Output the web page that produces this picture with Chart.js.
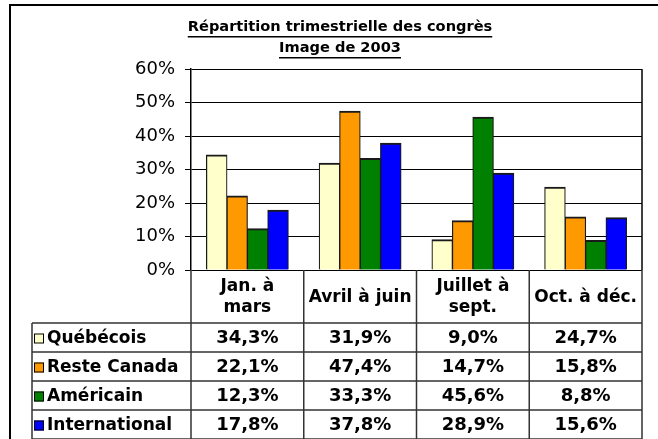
<!DOCTYPE html>
<html>
<head>
<meta charset="utf-8">
<script src="https://cdn.jsdelivr.net/npm/chart.js@4"></script>
<style>
  body { margin: 0; background: #fff; }
  #wrap { width: 658px; height: 439px; }
</style>
</head>
<body>
<div id="wrap"><canvas id="chart" width="658" height="439"></canvas></div>
<script>
'use strict';

// data
const categories = [['Jan. à', 'mars'], ['Avril à juin'], ['Juillet à', 'sept.'], ['Oct. à déc.']];
const seriesNames = ['Québécois', 'Reste Canada', 'Américain', 'International'];
const quebecois = [34.3, 31.9, 9.0, 24.7];
const resteCanada = [22.1, 47.4, 14.7, 15.8];
const americain = [12.3, 33.3, 45.6, 8.8];
const international = [17.8, 37.8, 28.9, 15.6];
const seriesColors = ['#FFFFCC', '#FF9900', '#008000', '#0000FF'];
const titleLines = ['Répartition trimestrielle des congrès', 'Image de 2003'];
const yMax = 60;
const yStep = 10;

const allSeries = [quebecois, resteCanada, americain, international];

function fmt(v) {
  return v.toFixed(1).replace('.', ',') + '%';
}

// title, outer frame and data table under the plot
const tablePlugin = {
  id: 'tablePlugin',
  afterDraw(chart) {
    const ctx = chart.ctx;
    const area = chart.chartArea;
    const x = chart.scales.x;
    ctx.save();

    // outer frame (only left and top show)
    ctx.strokeStyle = '#000';
    ctx.lineWidth = 2;
    ctx.strokeRect(10, 5, 800, 600);

    // title, underlined
    ctx.fillStyle = '#000';
    ctx.font = 'bold 14.6px "DejaVu Sans"';
    ctx.textAlign = 'center';
    ctx.textBaseline = 'middle';
    const cx = 340;
    titleLines.forEach((t, i) => {
      const ty = 27 + i * 21;
      ctx.fillText(t, cx, ty);
      const w = ctx.measureText(t).width;
      ctx.fillRect(cx - w / 2, ty + 9, w, 1.5);
    });

    // plot right border
    ctx.strokeStyle = '#000';
    ctx.lineWidth = 1.5;
    ctx.beginPath();
    ctx.moveTo(area.right, area.top);
    ctx.lineTo(area.right, area.bottom);
    ctx.stroke();

    // table geometry
    const colW = (area.right - area.left) / categories.length;
    const headTop = area.bottom;
    const headBottom = 323;
    const rowH = 29;
    const legLeft = 32;
    const tableBottom = headBottom + rowH * seriesNames.length;

    ctx.strokeStyle = '#333';
    ctx.lineWidth = 1.5;
    ctx.beginPath();
    for (let i = 0; i <= categories.length; i++) {
      const vx = area.left + i * colW;
      ctx.moveTo(vx, headTop);
      ctx.lineTo(vx, tableBottom);
    }
    ctx.moveTo(legLeft, headBottom);
    ctx.lineTo(legLeft, tableBottom);
    for (let r = 0; r <= seriesNames.length; r++) {
      const hy = headBottom + r * rowH;
      ctx.moveTo(legLeft, hy);
      ctx.lineTo(area.right, hy);
    }
    ctx.stroke();

    ctx.fillStyle = '#000';
    ctx.font = 'bold 17px "DejaVu Sans"';
    ctx.textAlign = 'center';
    ctx.textBaseline = 'middle';

    // header = category labels at the x scale positions
    categories.forEach((lines, i) => {
      const px = x.getPixelForValue(i);
      const mid = (headTop + headBottom) / 2 + 1;
      const lh = 21;
      lines.forEach((ln, j) => {
        const py = mid + (j - (lines.length - 1) / 2) * lh;
        ctx.fillText(ln, px, py);
      });
    });

    // rows
    seriesNames.forEach((name, r) => {
      const py = headBottom + r * rowH + rowH / 2 + 1;
      ctx.fillStyle = seriesColors[r];
      ctx.fillRect(34, py - 5, 10, 10);
      ctx.strokeStyle = '#000';
      ctx.lineWidth = 1;
      ctx.strokeRect(34.5, py - 4.5, 9, 9);
      ctx.fillStyle = '#000';
      ctx.textAlign = 'left';
      ctx.font = 'bold 17px "DejaVu Sans"';
      ctx.fillText(name, 47, py);
      ctx.textAlign = 'center';
      ctx.font = 'bold 18px "DejaVu Sans"';
      allSeries[r].forEach((v, i) => {
        ctx.fillText(fmt(v), x.getPixelForValue(i), py);
      });
    });

    ctx.restore();
  }
};

const ctx = document.getElementById('chart');

let config = {
  type: 'bar',
  data: {
    labels: categories,
    datasets: seriesNames.map((name, i) => ({
      label: name,
      data: allSeries[i],
      backgroundColor: seriesColors[i],
      borderColor: '#1a1a1a',
      borderWidth: { top: 2, left: 1.2, right: 1.2, bottom: 0 },
      borderSkipped: false,
      inflateAmount: 0.5,
      categoryPercentage: 0.725,
      barPercentage: 1
    }))
  },
  options: {
    responsive: false,
    animation: false,
    devicePixelRatio: 1,
    layout: {
      padding: { left: 0, right: 16, top: 69, bottom: 169 }
    },
    plugins: {
      legend: { display: false },
      title: { display: false },
      tooltip: { enabled: false }
    },
    scales: {
      x: {
        ticks: { display: false },
        grid: { display: false, drawTicks: false },
        border: { display: false },
        afterFit(scale) { scale.height = 0; }
      },
      y: {
        min: 0,
        max: yMax,
        ticks: {
          stepSize: yStep,
          padding: 10,
          color: '#000',
          font: { family: 'DejaVu Sans', size: 18 },
          callback: (v) => v + '%'
        },
        grid: {
          color: '#000',
          lineWidth: 1,
          tickLength: 6,
          drawTicks: true
        },
        border: { color: '#000', width: 1.5 },
        afterFit(scale) { scale.width = 191; }
      }
    }
  },
  plugins: [tablePlugin]
};

// eslint-disable-next-line no-undef
new Chart(ctx, config);
</script>
</body>
</html>
